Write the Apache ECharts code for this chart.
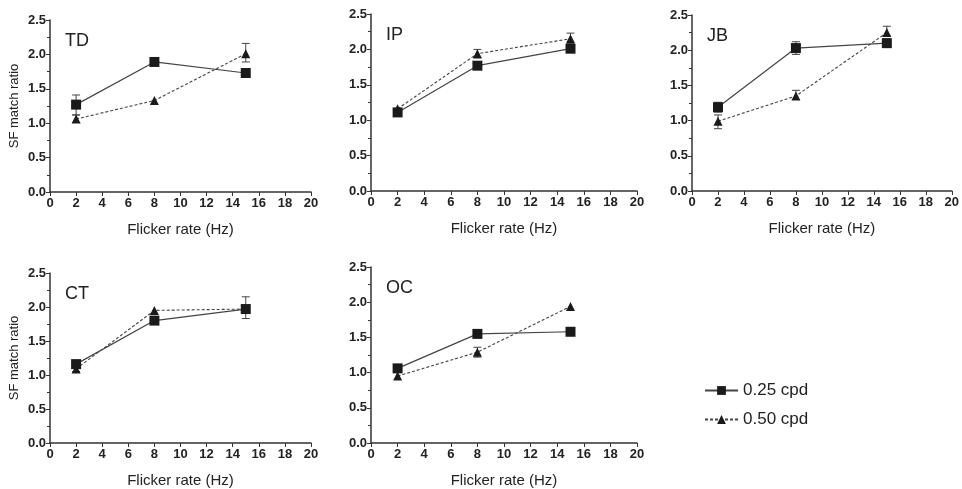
<!DOCTYPE html>
<html>
<head>
<meta charset="utf-8">
<script src="https://cdn.jsdelivr.net/npm/echarts@6/dist/echarts.min.js"></script>
<style>
  html, body { margin: 0; padding: 0; background: #fff; }
  #chart { width: 962px; height: 489px; }
</style>
</head>
<body>
<div id="chart"></div>
<script>
// flicker rates (Hz)
const rates = [2, 8, 15]
const panelNames = ["TD", "IP", "JB", "CT", "OC"]
const seriesNames = ["0.25 cpd", "0.50 cpd"]

// SF match ratio per observer
const td025 = [1.27, 1.89, 1.73]
const td050 = [1.06, 1.33, 2.01]
const ip025 = [1.11, 1.77, 2.01]
const ip050 = [1.16, 1.94, 2.15]
const jb025 = [1.19, 2.03, 2.10]
const jb050 = [0.99, 1.35, 2.25]
const ct025 = [1.16, 1.80, 1.97]
const ct050 = [1.09, 1.95, 1.97]
const oc025 = [1.06, 1.55, 1.58]
const oc050 = [0.95, 1.29, 1.94]

// error bars [rate, low, high]
const td025Err = [[2, 1.12, 1.41], [8, 1.86, 1.92], [15, 1.70, 1.76]]
const td050Err = [[2, 1.01, 1.12], [15, 1.89, 2.16]]
const ip025Err = [[2, 1.08, 1.14], [8, 1.74, 1.80], [15, 1.97, 2.06]]
const ip050Err = [[8, 1.88, 2.00], [15, 2.08, 2.23]]
const jb025Err = [[2, 1.12, 1.26], [8, 1.94, 2.12], [15, 2.04, 2.16]]
const jb050Err = [[2, 0.885, 1.08], [8, 1.30, 1.43], [15, 2.20, 2.34]]
const ct025Err = [[2, 1.10, 1.20], [8, 1.76, 1.84], [15, 1.83, 2.15]]
const ct050Err = [[2, 1.05, 1.13]]
const oc025Err = [[8, 1.52, 1.58]]
const oc050Err = [[8, 1.22, 1.36]]

const xTicks = [0, 20, 2]   // min, max, interval
const yTicks = [0, 2.5, 0.5]

const panelData = [
  [td025, td050, td025Err, td050Err],
  [ip025, ip050, ip025Err, ip050Err],
  [jb025, jb050, jb025Err, jb050Err],
  [ct025, ct050, ct025Err, ct050Err],
  [oc025, oc050, oc025Err, oc050Err]
]

const grids = [
  { left: 50, top: 20, width: 261, height: 172 },
  { left: 371, top: 14, width: 266, height: 177 },
  { left: 692, top: 15, width: 265, height: 176 },
  { left: 50, top: 273, width: 261, height: 173 },
  { left: 371, top: 267, width: 266, height: 176 }
]

const axisColor = "#333"
const textColor = "#222"
const font = "Liberation Sans, Arial, sans-serif"

const chart = echarts.init(document.getElementById("chart"))

const xAxes = grids.map((g, i) => ({
  type: "value",
  gridIndex: i,
  min: xTicks[0], max: xTicks[1], interval: xTicks[2],
  name: "Flicker rate (Hz)",
  nameLocation: "middle",
  nameGap: 30,
  nameTextStyle: { fontSize: 15, color: textColor, fontFamily: font },
  axisLine: { lineStyle: { color: axisColor, width: 1.5 } },
  axisTick: { lineStyle: { color: axisColor }, length: 4 },
  axisLabel: { fontSize: 13, fontWeight: "bold", color: textColor, fontFamily: font, margin: 5 },
  splitLine: { show: false }
}))

const yAxes = grids.map((g, i) => ({
  type: "value",
  gridIndex: i,
  min: yTicks[0], max: yTicks[1], interval: yTicks[2],
  name: (i === 0 || i === 3) ? "SF match ratio" : "",
  nameLocation: "middle",
  nameGap: 29,
  nameTextStyle: { fontSize: 13, color: textColor, fontFamily: font },
  axisLine: { show: true, lineStyle: { color: axisColor, width: 1.5 } },
  axisTick: { show: true, lineStyle: { color: axisColor }, length: 4 },
  minorTick: { show: true, splitNumber: 2, length: 3, lineStyle: { color: axisColor } },
  axisLabel: {
    fontSize: 13, fontWeight: "bold", color: textColor, fontFamily: font, margin: 4,
    formatter: (v) => v.toFixed(1)
  },
  splitLine: { show: false }
}))

const titles = grids.map((g, i) => ({
  text: panelNames[i],
  left: g.left + 15,
  top: g.top + 12,
  padding: 0,
  textStyle: { fontSize: 18, fontWeight: "normal", color: textColor, fontFamily: font }
}))

function errorBar(params, api) {
  const x = api.value(0)
  const lo = api.coord([x, api.value(1)])
  const hi = api.coord([x, api.value(2)])
  const cap = 4
  const style = { stroke: "#444", lineWidth: 1 }
  return {
    type: "group",
    children: [
      { type: "line", shape: { x1: lo[0], y1: lo[1], x2: hi[0], y2: hi[1] }, style },
      { type: "line", shape: { x1: lo[0] - cap, y1: lo[1], x2: lo[0] + cap, y2: lo[1] }, style },
      { type: "line", shape: { x1: hi[0] - cap, y1: hi[1], x2: hi[0] + cap, y2: hi[1] }, style }
    ]
  }
}

const series = []
panelData.forEach((pd, i) => {
  // error bars first so markers sit on top
  ;[pd[2], pd[3]].forEach((err, k) => {
    series.push({
      type: "custom",
      name: "err " + seriesNames[k],
      xAxisIndex: i, yAxisIndex: i,
      renderItem: errorBar,
      data: err,
      z: 1,
      silent: true
    })
  })
  series.push({
    type: "line",
    name: seriesNames[0],
    xAxisIndex: i, yAxisIndex: i,
    data: rates.map((r, j) => [r, pd[0][j]]),
    symbol: "rect",
    symbolSize: 10,
    itemStyle: { color: "#1a1a1a" },
    lineStyle: { color: "#444", width: 1.2, type: "solid" },
    z: 3
  })
  series.push({
    type: "line",
    name: seriesNames[1],
    xAxisIndex: i, yAxisIndex: i,
    data: rates.map((r, j) => [r, pd[1][j]]),
    symbol: "triangle",
    symbolSize: 9,
    itemStyle: { color: "#1a1a1a" },
    lineStyle: { color: "#444", width: 1.1, type: [3, 2] },
    z: 2
  })
})

const option = {
  animation: false,
  backgroundColor: "#fff",
  title: titles,
  grid: grids,
  xAxis: xAxes,
  yAxis: yAxes,
  legend: {
    data: seriesNames,
    orient: "vertical",
    left: 704,
    top: 382,
    padding: 0,
    itemWidth: 33,
    itemHeight: 11,
    itemGap: 12,
    textStyle: { fontSize: 17, color: textColor, fontFamily: font }
  },
  series: series
}

chart.setOption(option)
</script>
</body>
</html>
